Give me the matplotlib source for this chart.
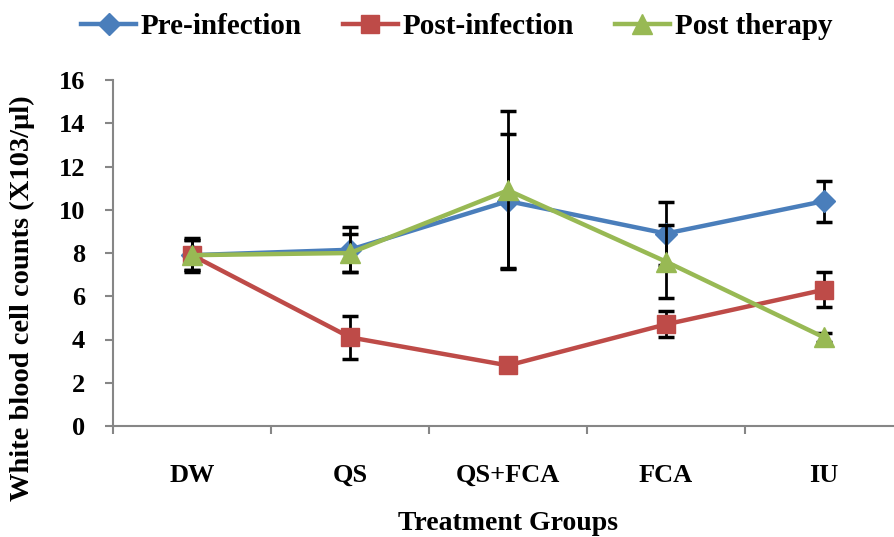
import numpy as np
import matplotlib.pyplot as plt

plt.rcParams['font.family'] = 'Liberation Serif'
plt.rcParams['font.weight'] = 'bold'

groups = ["DW", "QS", "QS+FCA", "FCA", "IU"]

pre_infection = [7.9, 8.15, 10.4, 8.9, 10.4]
pre_err = [0.8, 1.05, 3.1, 1.45, 0.95]

post_infection = [7.9, 4.1, 2.8, 4.7, 6.3]
post_err = [0.7, 1.0, 0.0, 0.6, 0.8]

post_therapy = [7.9, 8.0, 10.9, 7.6, 4.1]
therapy_err = [0.7, 0.9, 3.65, 1.7, 0.2]

fig = plt.figure(figsize=(8.95, 5.37), dpi=100)
ax = fig.add_axes([113 / 895, 111 / 537, 790 / 895, 346 / 537])

x = np.arange(len(groups))
series = [
    ("Pre-infection", pre_infection, pre_err, "#4A7EBB", "D", 11),
    ("Post-infection", post_infection, post_err, "#BE4B48", "s", 13),
    ("Post therapy", post_therapy, therapy_err, "#98B954", "^", 15),
]

handles = []
for i, (name, vals, err, col, mk, ms) in enumerate(series):
    ax.errorbar(x, vals, yerr=err, fmt="none", ecolor="black", elinewidth=2,
                capsize=6, capthick=2.5, zorder=2 + 2 * i)
    h, = ax.plot(x, vals, color=col, lw=3.2, marker=mk, markersize=ms,
                 label=name, zorder=3 + 2 * i)
    handles.append(h)

ax.set_xlim(-0.5, 4.5)
ax.set_ylim(0, 16)
ax.set_yticks(range(0, 17, 2))
ax.set_xticks(np.arange(-0.5, 5, 1))
ax.set_xticklabels([])
ax.set_xticks(x, minor=True)
ax.set_xticklabels(groups, minor=True)
ax.tick_params(axis="x", which="major", length=6, width=1.5, color="#868686", direction="out")
ax.tick_params(axis="x", which="minor", length=0, pad=27, labelsize=19)
ax.tick_params(axis="y", length=6, width=1.5, color="#868686", direction="out", pad=14, labelsize=19)

for s in ["top", "right"]:
    ax.spines[s].set_visible(False)
for s in ["left", "bottom"]:
    ax.spines[s].set_color("#868686")
    ax.spines[s].set_linewidth(1.5)

ax.set_xlabel("Treatment Groups", fontsize=20, fontweight="bold")
ax.xaxis.set_label_coords(0.5, -0.245)
ax.set_ylabel("White blood cell counts (X103/µl)", fontsize=20.5, fontweight="bold")
ax.yaxis.set_label_coords(-0.099, 0.37)

fig.legend(handles=handles, loc="center", bbox_to_anchor=(0.51, 0.95), ncol=3,
           frameon=False, fontsize=21, handlelength=1.9, columnspacing=1.4,
           handletextpad=0.15)

fig.savefig("out.png", dpi=100)
